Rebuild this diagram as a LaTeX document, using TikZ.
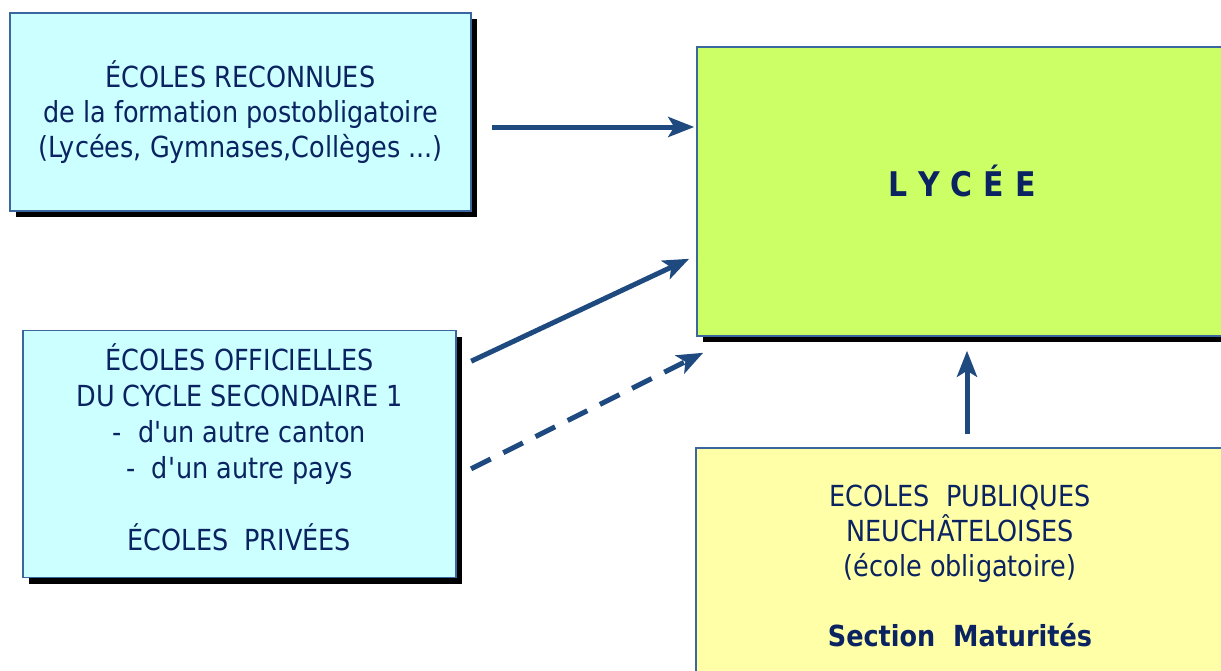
\documentclass[tikz,border=0pt]{standalone}
\usepackage{fontspec}
\setmainfont{DejaVu Sans}[FakeStretch=0.88]
\usepackage{tikz}
\usepackage{xcolor}
\usetikzlibrary{arrows.meta,shadows}
\definecolor{navy-text}{HTML}{0B2360}
\definecolor{navy-line}{HTML}{1F4A80}
\definecolor{box-edge}{HTML}{3A689E}
\definecolor{cyan-fill}{HTML}{CCFFFF}
\definecolor{lime-fill}{HTML}{CCFF66}
\definecolor{cream-fill}{HTML}{FFFFA8}
\tikzset{
    school-box/.style = {draw=box-edge, line width=1.5pt, rectangle, inner sep=0pt, align=center, text=navy-text,
        font=\fontsize{29}{35}\selectfont,
        drop shadow={shadow xshift=6pt, shadow yshift=-6pt, fill=black, opacity=1}},
    link/.style = {draw=navy-line, line width=5pt, -{Stealth[length=26pt, width=20pt, inset=6pt]}},
}

\begin{document}
\begin{tikzpicture}[x=1pt, y=-1pt]
\useasboundingbox (0,0) rectangle (1221,670);
\clip (0,0) rectangle (1221,670);
\node [school-box, fill=cyan-fill, minimum width=461pt, minimum height=198pt] (reconnues) at (240.5,112)
    {ÉCOLES RECONNUES\\de la formation postobligatoire\\(Lycées, Gymnases,Collèges ...)};
\node [school-box, fill=cyan-fill, minimum width=433pt, minimum height=247pt, font=\fontsize{29}{36}\selectfont] (officielles) at (239.5,454)
    {ÉCOLES OFFICIELLES\\DU CYCLE SECONDAIRE 1\\-\ \ d\textquotesingle un autre canton\\-\ \ d\textquotesingle un autre pays\\[36pt]ÉCOLES\ \ PRIVÉES\\[-22pt]\mbox{}};
\node [school-box, fill=lime-fill, minimum width=530pt, minimum height=289pt] (lycee) at (962,191.5)
    {\fontsize{34}{35}\selectfont\bfseries L\hspace{11pt}Y\hspace{11pt}C\hspace{11pt}É\hspace{11pt}E\\[-13pt]\mbox{}};
\node [school-box, fill=cream-fill, minimum width=528pt, minimum height=236pt] (publiques) at (960,566)
    {ECOLES\ \ PUBLIQUES\\NEUCHÂTELOISES\\(école obligatoire)\\[35pt]\bfseries Section\ \ Maturités};
% arrows into the lycee
\draw [link, shorten <=20pt, shorten >=2pt] ([yshift=-15pt]reconnues.east) -- ([yshift=-15pt]reconnues.east -| lycee.west);
\draw [link, shorten <=16pt] ([yshift=86pt]officielles.east) -- ([xshift=-7pt, yshift=78pt]lycee.south west);
\draw [link, dash pattern=on 22pt off 14pt, shorten <=16pt] ([yshift=-22pt]officielles.east) -- ([xshift=7pt, yshift=-16pt]lycee.south west);
\draw [link, shorten >=14pt] ([xshift=7pt, yshift=13pt]publiques.north) -- ([xshift=7pt]publiques.north |- lycee.south);
\end{tikzpicture}
\end{document}
